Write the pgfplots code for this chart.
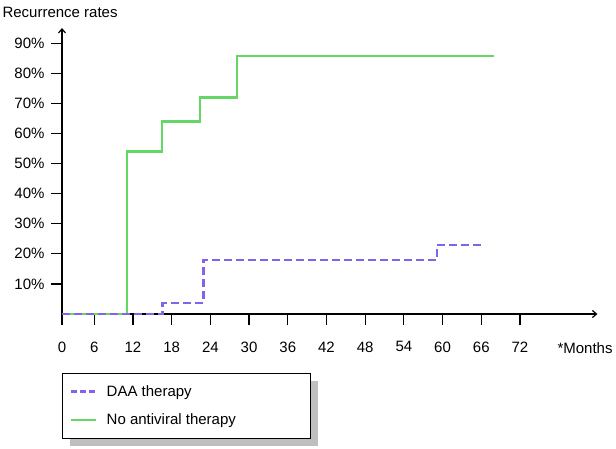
\documentclass[border=0pt]{standalone}
\usepackage{pgfplots}
\pgfplotsset{compat=1.18}
\usepackage{fontspec}
\setmainfont{Liberation Sans}
\usetikzlibrary{arrows.meta}
\pgfdeclarelayer{background}
\pgfsetlayers{background,main}
\definecolor{daacol}{RGB}{130,100,235}
\definecolor{nocol}{RGB}{100,215,100}

\begin{document}
\begin{tikzpicture}
\begin{axis}[
  x=6.45pt, y=3.01pt,
  xmin=1, xmax=84, ymin=0, ymax=95,
  axis lines=left,
  axis line style={line width=1.2pt,-{Straight Barb[length=4pt,width=7pt]}},
  xtick={1,6,12,18,24,30,36,42,48,54,60,66,72},
  xticklabels={0,6,12,18,24,30,36,42,48,54,60,66,72},
  ytick={10,20,30,40,50,60,70,80,90},
  yticklabel={\pgfmathprintnumber{\tick}\%},
  tick align=outside, major tick length=11pt,
  tick style={black,line width=1.2pt},
  /pgf/number format/assume math mode=true,
  tick label style={font=\fontsize{15}{17}\selectfont},
  xticklabel style={yshift=-13pt},
  yticklabel style={xshift=-3pt},
  legend style={name=leg, at={(rel axis cs:0,0)}, anchor=north west, yshift=-59pt,
    draw=black, fill=white,
    font=\fontsize{15}{17}\selectfont, row sep=12pt, inner xsep=8pt, inner ysep=10pt,
    /tikz/every odd column/.append style={column sep=7pt}},
  legend cell align=left,
  legend image code/.code={\draw[#1] (0pt,0pt) -- (25pt,0pt);},
  clip=false,
]
  \addlegendimage{daacol, line width=2.5pt, dash pattern=on 6pt off 3pt}
  \addlegendentry{\makebox[193pt][l]{DAA therapy}}
  \addlegendimage{nocol, line width=2.5pt}
  \addlegendentry{\makebox[193pt][l]{No antiviral therapy}}
  \addplot[nocol, line width=2.5pt, const plot, forget plot] coordinates {
    (1,0) (11.1,54) (16.5,64) (22.4,72) (28.1,85.7) (68,85.7)};
  \addplot[daacol, line width=2.5pt, dash pattern=on 8pt off 4pt, const plot, forget plot] coordinates {
    (1,0) (16.6,3.7) (22.9,18) (59.1,23) (66.1,23)};
  \coordinate (O) at (axis cs:1,0);
\end{axis}
\begin{pgfonlayer}{background}
  \fill[black!25] ([shift={(8pt,-8pt)}]leg.south west) rectangle ([shift={(8pt,-8pt)}]leg.north east);
\end{pgfonlayer}
\node[anchor=west,font=\fontsize{15}{17}\selectfont] at ([shift={(492pt,-34pt)}]O) {*Months};
\node[anchor=west,font=\fontsize{15}{17}\selectfont] at ([shift={(-63pt,302pt)}]O) {Recurrence rates};
\pgfresetboundingbox
\path ([shift={(-62pt,314pt)}]O) rectangle ([shift={(554pt,-134pt)}]O);
\end{tikzpicture}
\end{document}
